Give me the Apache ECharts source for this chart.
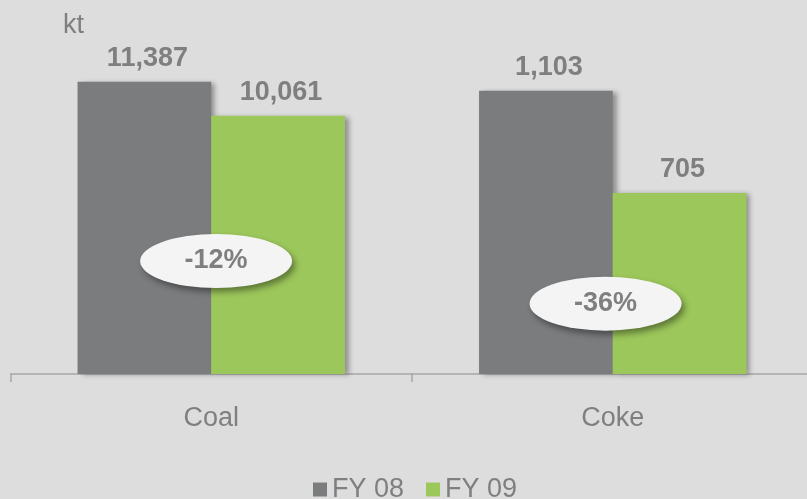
<!DOCTYPE html>
<html>
<head>
<meta charset="utf-8">
<title>Coal / Coke</title>
<script src="https://cdn.jsdelivr.net/npm/echarts@6/dist/echarts.min.js"></script>
<style>
  html, body { margin: 0; padding: 0; background: #dddddd; }
  #chart { width: 807px; height: 499px; }
</style>
</head>
<body>
<div id="chart"></div>
<script>
  // values in kt
  const categories = ['Coal', 'Coke'];
  const seriesNames = ['FY 08', 'FY 09'];
  const fy08Values = [11387, 1103];
  const fy09Values = [10061, 705];
  const unitLabel = 'kt';

  const colors = ['#7b7c7e', '#9cc75b'];
  const textColor = '#7f7f7f';
  const fontFamily = "'Liberation Sans', Arial, sans-serif";
  // each category keeps its own scale (coke is drawn 10x larger)
  const axisMax = [13400, 1340];
  // where the change badge sits: value units of each category, px shift from the FY 09 bar
  const badgeValue = [4400, 274];
  const badgeShift = [-62, -74];

  const ellipsePath = 'path://M0,50A50,50,0,1,1,100,50A50,50,0,1,1,0,50Z';

  const fmt = function(v) {
    return v.toLocaleString('en-US');
  };

  let grids = [];
  let xAxes = [];
  let yAxes = [];
  let series = [];

  categories.forEach((cat, i) => {
    // the second grid runs a little past the right edge, like the slide
    grids.push({
      left: 10.5 + i * 401.5,
      width: 401.5,
      top: 30,
      bottom: 125,
      outerBoundsMode: 'none'
    });
    xAxes.push({
      type: 'category',
      gridIndex: i,
      data: [cat],
      axisLine: { lineStyle: { color: '#a6a6a6', width: 1.5 } },
      axisTick: {
        show: true,
        alignWithLabel: false,
        length: 8,
        lineStyle: { color: '#a6a6a6', width: 1.5 }
      },
      axisLabel: {
        margin: 31,
        color: textColor,
        fontSize: 27,
        fontFamily: fontFamily
      }
    });
    yAxes.push({
      type: 'value',
      gridIndex: i,
      min: 0,
      max: axisMax[i],
      show: false,
      splitLine: { show: false }
    });

    const pair = [fy08Values[i], fy09Values[i]];
    const change = Math.round((pair[1] - pair[0]) / pair[0] * 100);

    pair.forEach((v, k) => {
      let s = {
        name: seriesNames[k],
        type: 'bar',
        xAxisIndex: i,
        yAxisIndex: i,
        data: [v],
        barGap: 0,
        barCategoryGap: '33.4%',
        itemStyle: {
          color: colors[k],
          shadowColor: 'rgba(0,0,0,0.35)',
          shadowBlur: 5,
          shadowOffsetX: 4,
          shadowOffsetY: 1
        },
        label: {
          show: true,
          position: 'top',
          distance: 10,
          offset: [3, 0],
          color: textColor,
          fontSize: 27,
          fontWeight: 'bold',
          fontFamily: fontFamily,
          formatter: p => fmt(p.value)
        }
      };
      if (k === 1) {
        s.markPoint = {
          symbol: ellipsePath,
          symbolSize: [152, 54],
          symbolOffset: [badgeShift[i], 0],
          itemStyle: {
            color: '#f4f4f4',
            shadowColor: 'rgba(0,0,0,0.4)',
            shadowBlur: 6,
            shadowOffsetX: 3,
            shadowOffsetY: 4
          },
          label: {
            show: true,
            color: textColor,
            fontSize: 27,
            fontWeight: 'bold',
            fontFamily: fontFamily,
            formatter: change + '%'
          },
          data: [{ coord: [cat, badgeValue[i]], value: change }]
        };
      }
      series.push(s);
    });
  });

  const chart = echarts.init(document.getElementById('chart'));
  chart.setOption({
    backgroundColor: '#dddddd',
    animation: false,
    title: {
      text: unitLabel,
      left: 58,
      top: 7,
      textStyle: {
        color: textColor,
        fontSize: 27,
        fontWeight: 'normal',
        fontFamily: fontFamily
      }
    },
    legend: {
      data: seriesNames,
      left: 308,
      top: 471,
      icon: 'rect',
      itemWidth: 14,
      itemHeight: 14,
      itemGap: 22,
      textStyle: {
        color: textColor,
        fontSize: 27,
        fontFamily: fontFamily
      }
    },
    grid: grids,
    xAxis: xAxes,
    yAxis: yAxes,
    series: series
  });
</script>
</body>
</html>
